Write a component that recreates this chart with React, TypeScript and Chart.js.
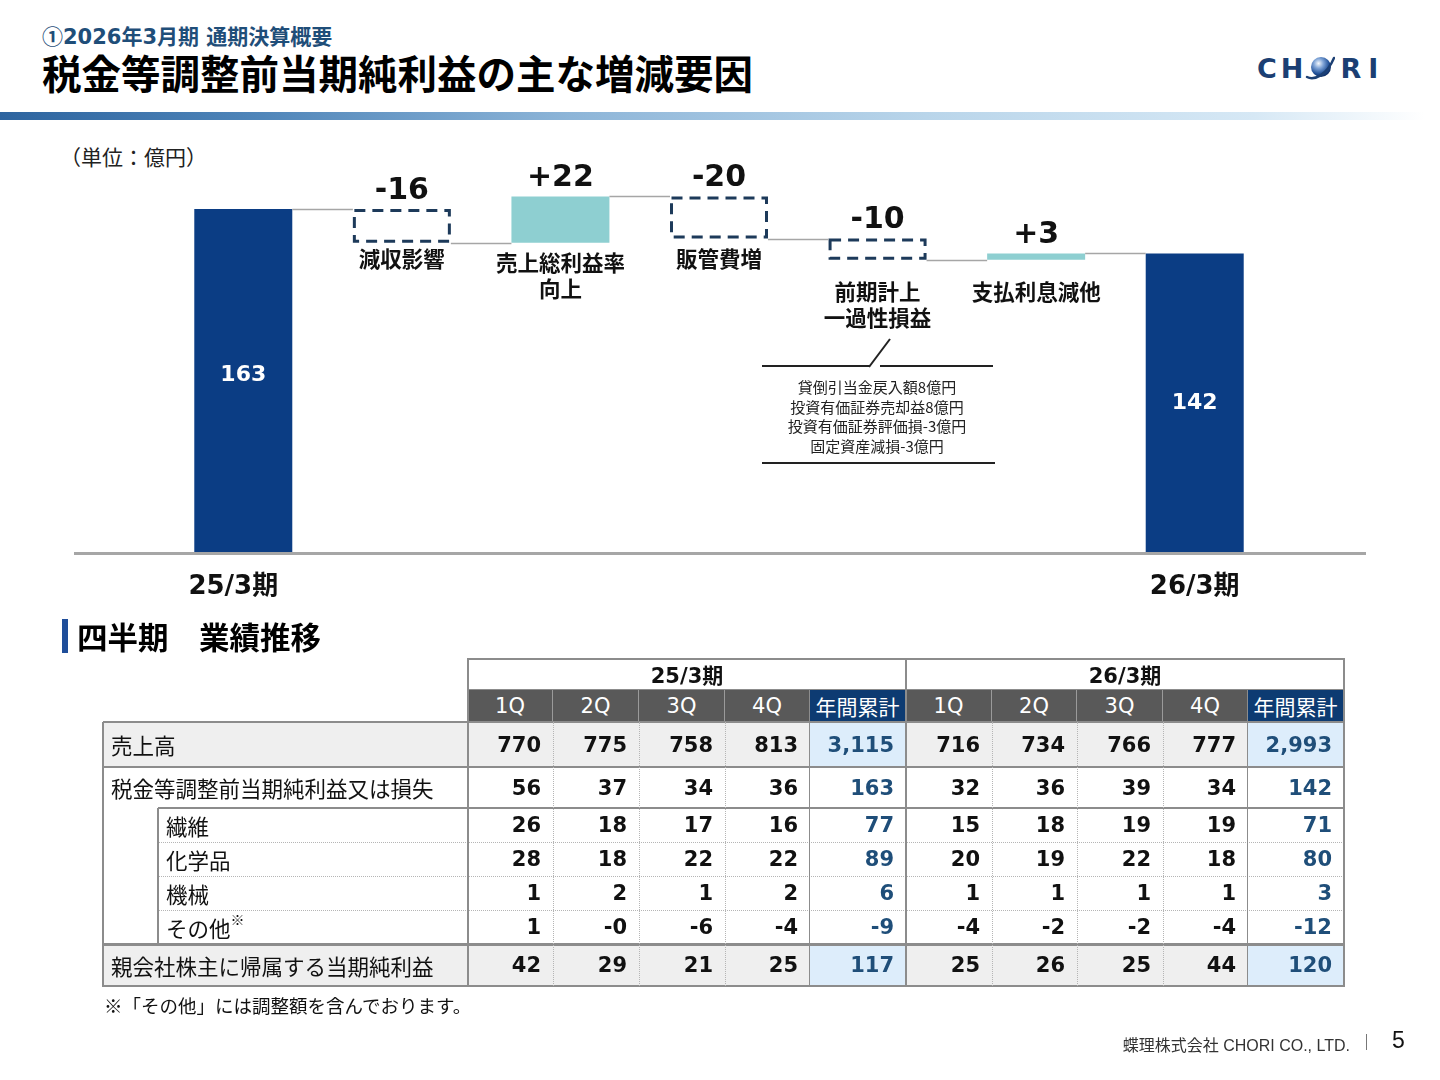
import React, { useEffect, useRef } from 'react';
import { Chart, registerables } from 'chart.js';

Chart.register(...registerables);

// ---------------- Waterfall data ----------------
const wfCategories = ['25/3期', '減収影響', '売上総利益率向上', '販管費増', '前期計上一過性損益', '支払利息減他', '26/3期'];
const wfStartValue = 163;
const wfChangeValues = [-16, 22, -20, -10, 3];
const wfEndValue = 142;
const wfChangeLabelLines = [['減収影響'], ['売上総利益率', '向上'], ['販管費増'], ['前期計上', '一過性損益'], ['支払利息減他']];
const wfNoteLines = ['貸倒引当金戻入額8億円', '投資有価証券売却益8億円', '投資有価証券評価損-3億円', '固定資産減損-3億円'];

// ---------------- Table data ----------------
const periods = ['25/3期', '26/3期'];
const quarterHeaders = ['1Q', '2Q', '3Q', '4Q', '年間累計'];
const rowLabels = ['売上高', '税金等調整前当期純利益又は損失', '繊維', '化学品', '機械', 'その他', '親会社株主に帰属する当期純利益'];
const fy25Values = [
  ['770', '775', '758', '813', '3,115'],
  ['56', '37', '34', '36', '163'],
  ['26', '18', '17', '16', '77'],
  ['28', '18', '22', '22', '89'],
  ['1', '2', '1', '2', '6'],
  ['1', '-0', '-6', '-4', '-9'],
  ['42', '29', '21', '25', '117'],
];
const fy26Values = [
  ['716', '734', '766', '777', '2,993'],
  ['32', '36', '39', '34', '142'],
  ['15', '18', '19', '19', '71'],
  ['20', '19', '22', '18', '80'],
  ['1', '1', '1', '1', '3'],
  ['-4', '-2', '-2', '-4', '-12'],
  ['25', '26', '25', '44', '120'],
];

// ---------------- Styles ----------------
const JP = '"Noto Sans CJK JP", sans-serif';
const NUM = '"DejaVu Sans", "Noto Sans CJK JP", sans-serif';
const NAVY = '#0b3d84';
const TEAL = '#8ecfd1';
const DASH = '#1d3a5a';
const CONNECT = '#a6a6a6';
const LABEL_GAP = [16, 20, 20, 32, 32];
const TOTAL_LABEL_DX = [-10, 0];

// layout of table (pixels)
const colX = [468, 553, 639, 725, 810, 906, 992, 1077, 1163, 1248, 1344];
const rowY = [722, 767, 808, 842, 876, 910, 944, 986];
const TABLE_LEFT = 103;
const SUB_LEFT = 158;

function buildBars() {
  const bars: [number, number][] = [[0, wfStartValue]];
  const levels: number[] = [wfStartValue];
  let run = wfStartValue;
  for (const c of wfChangeValues) {
    const next = run + c;
    bars.push([Math.min(run, next), Math.max(run, next)]);
    run = next;
    levels.push(run);
  }
  bars.push([0, wfEndValue]);
  return { bars, levels };
}

const waterfallPlugin = {
  id: 'waterfallDecor',
  afterDatasetsDraw(chart: any) {
    const ctx = chart.ctx;
    const ys = chart.scales.y;
    const meta = chart.getDatasetMeta(0);
    const els = meta.data.map((el: any) => el.getProps(['x', 'y', 'base', 'width'], true));
    const { levels } = buildBars();
    const n = els.length;
    ctx.save();
    // dashed boxes for negatives
    wfChangeValues.forEach((v, i) => {
      const e = els[i + 1];
      if (v < 0) {
        ctx.setLineDash([11, 7]);
        ctx.lineWidth = 3;
        ctx.strokeStyle = DASH;
        const top = Math.min(e.y, e.base);
        const bot = Math.max(e.y, e.base);
        ctx.strokeRect(e.x - e.width / 2 + 1.5, top + 1.5, e.width - 3, bot - top - 3);
      }
    });
    ctx.setLineDash([]);
    // connectors
    ctx.strokeStyle = CONNECT;
    ctx.lineWidth = 1.5;
    for (let i = 0; i < n - 1; i++) {
      const a = els[i];
      const b = els[i + 1];
      const py = Math.round(ys.getPixelForValue(levels[i])) + 0.5;
      ctx.beginPath();
      ctx.moveTo(a.x + a.width / 2, py);
      ctx.lineTo(b.x - b.width / 2, py);
      ctx.stroke();
    }
    // baseline axis
    const y0 = ys.getPixelForValue(0);
    ctx.strokeStyle = '#a6a6a6';
    ctx.lineWidth = 3;
    ctx.beginPath();
    ctx.moveTo(0, y0 + 0.5);
    ctx.lineTo(chart.width, y0 + 0.5);
    ctx.stroke();

    // value labels for changes
    ctx.textAlign = 'center';
    ctx.textBaseline = 'middle';
    wfChangeValues.forEach((v, i) => {
      const e = els[i + 1];
      const top = Math.min(e.y, e.base);
      const bot = Math.max(e.y, e.base);
      ctx.fillStyle = '#111';
      ctx.font = `bold 30px ${NUM}`;
      ctx.fillText((v > 0 ? '+' : '') + String(v), e.x, top - 18);
      ctx.font = `bold 21.5px ${JP}`;
      wfChangeLabelLines[i].forEach((line, k) => {
        ctx.fillText(line, e.x, bot + LABEL_GAP[i] + k * 26);
      });
    });
    // totals
    [0, n - 1].forEach((idx, k) => {
      const e = els[idx];
      const top = Math.min(e.y, e.base);
      const bot = Math.max(e.y, e.base);
      const val = idx === 0 ? wfStartValue : wfEndValue;
      ctx.fillStyle = '#ffffff';
      ctx.font = `bold 22px ${NUM}`;
      ctx.fillText(String(val), e.x, (top + bot) / 2 - (idx === 0 ? 6 : 0));
      ctx.fillStyle = '#111';
      ctx.font = `bold 26px ${NUM}`;
      ctx.fillText(wfCategories[idx], e.x + TOTAL_LABEL_DX[k], bot + 34);
    });
    ctx.restore();
  },
};

function Waterfall() {
  const ref = useRef<HTMLCanvasElement | null>(null);
  useEffect(() => {
    if (!ref.current) return;
    const { bars } = buildBars();
    const bg = bars.map((_, i) => {
      if (i === 0 || i === bars.length - 1) return NAVY;
      return wfChangeValues[i - 1] > 0 ? TEAL : 'rgba(0,0,0,0)';
    });
    const chart = new Chart(ref.current, {
      type: 'bar',
      data: {
        labels: wfCategories,
        datasets: [
          {
            data: bars as any,
            backgroundColor: bg,
            borderWidth: 0,
            barPercentage: 0.618,
            categoryPercentage: 1,
          },
        ],
      },
      options: {
        responsive: false,
        maintainAspectRatio: false,
        animation: false,
        devicePixelRatio: 1,
        layout: { padding: { left: 90, right: 92, top: 31, bottom: 67 } },
        plugins: { legend: { display: false }, tooltip: { enabled: false } },
        scales: {
          x: { display: false },
          y: { display: false, min: 0, max: 200 },
        },
      },
      plugins: [waterfallPlugin],
    });
    let alive = true;
    (document as any).fonts?.ready?.then(() => {
      if (alive) chart.update();
    });
    return () => {
      alive = false;
      chart.destroy();
    };
  }, []);
  return (
    <canvas
      ref={ref}
      width={1292}
      height={520}
      style={{ position: 'absolute', left: 74, top: 100, width: 1292, height: 520 }}
    />
  );
}

function HLine({ x1, x2, y, w = 2, color = '#8c8c8c', dotted = false }: any) {
  return (
    <div
      style={{
        position: 'absolute',
        left: x1,
        top: y - w / 2,
        width: x2 - x1,
        height: 0,
        borderTop: `${w}px ${dotted ? 'dotted' : 'solid'} ${color}`,
      }}
    />
  );
}
function VLine({ x, y1, y2, w = 2, color = '#8c8c8c', dotted = false }: any) {
  return (
    <div
      style={{
        position: 'absolute',
        left: x - w / 2,
        top: y1,
        width: 0,
        height: y2 - y1,
        borderLeft: `${w}px ${dotted ? 'dotted' : 'solid'} ${color}`,
      }}
    />
  );
}

function Table() {
  const els: any[] = [];
  const highlightRows = [0, 6];
  // backgrounds
  rowLabels.forEach((_, r) => {
    const top = rowY[r];
    const h = rowY[r + 1] - rowY[r];
    if (highlightRows.includes(r)) {
      els.push(
        <div key={`bg${r}`} style={{ position: 'absolute', left: TABLE_LEFT, top, width: colX[10] - TABLE_LEFT, height: h, background: '#efefef' }} />
      );
      [4, 9].forEach((c) => {
        els.push(
          <div key={`bgt${r}-${c}`} style={{ position: 'absolute', left: colX[c], top, width: colX[c + 1] - colX[c], height: h, background: '#ddedfb' }} />
        );
      });
    }
  });
  // period header
  periods.forEach((p, i) => {
    els.push(
      <div
        key={`p${i}`}
        style={{
          position: 'absolute',
          left: colX[i * 5],
          top: 658,
          width: colX[i * 5 + 5] - colX[i * 5],
          height: 31,
          display: 'flex',
          alignItems: 'center',
          justifyContent: 'center',
          font: `bold 21px ${NUM}`,
          color: '#111',
        }}
      >
        {p}
      </div>
    );
  });
  // quarter headers
  for (let c = 0; c < 10; c++) {
    const isTotal = c % 5 === 4;
    els.push(
      <div
        key={`q${c}`}
        style={{
          position: 'absolute',
          left: colX[c],
          top: 689,
          width: colX[c + 1] - colX[c],
          height: 33,
          background: isTotal ? '#0d3b72' : '#595959',
          color: '#fff',
          display: 'flex',
          alignItems: 'center',
          justifyContent: 'center',
          font: isTotal ? `21px ${JP}` : `21px ${NUM}`,
          boxSizing: 'border-box',
          borderRight: '1px solid #9a9a9a',
        }}
      >
        {quarterHeaders[c % 5]}
      </div>
    );
  }
  // row labels and values
  rowLabels.forEach((label, r) => {
    const top = rowY[r];
    const h = rowY[r + 1] - rowY[r];
    const isSub = r >= 2 && r <= 5;
    const left = isSub ? SUB_LEFT : TABLE_LEFT;
    els.push(
      <div
        key={`l${r}`}
        style={{
          position: 'absolute',
          left: left + 8,
          top,
          height: h,
          display: 'flex',
          alignItems: 'center',
          font: `21.5px ${JP}`,
          color: '#111',
          whiteSpace: 'nowrap',
        }}
      >
        {label}
        {label === 'その他' ? <span style={{ fontSize: 14, position: 'relative', top: -8 }}>※</span> : null}
      </div>
    );
    const vals = [...fy25Values[r], ...fy26Values[r]];
    vals.forEach((v, c) => {
      const isTotal = c % 5 === 4;
      els.push(
        <div
          key={`v${r}-${c}`}
          style={{
            position: 'absolute',
            left: colX[c],
            top,
            width: colX[c + 1] - colX[c] - 12,
            height: h,
            display: 'flex',
            alignItems: 'center',
            justifyContent: 'flex-end',
            font: `bold 21px ${NUM}`,
            color: isTotal ? '#1f4e79' : '#111',
          }}
        >
          {v}
        </div>
      );
    });
  });

  // lines
  const lines: any[] = [];
  lines.push(<HLine key="h658" x1={468} x2={1344} y={659} />);
  lines.push(<HLine key="h689" x1={468} x2={1344} y={689} w={1} />);
  lines.push(<HLine key="h722" x1={TABLE_LEFT} x2={1344} y={rowY[0]} />);
  lines.push(<HLine key="h767" x1={TABLE_LEFT} x2={1344} y={rowY[1]} />);
  lines.push(<HLine key="h808" x1={SUB_LEFT} x2={1344} y={rowY[2]} />);
  [3, 4, 5].forEach((r) => lines.push(<HLine key={`hd${r}`} x1={SUB_LEFT} x2={1344} y={rowY[r]} w={1} color="#b5b5b5" dotted />));
  lines.push(<HLine key="h944" x1={TABLE_LEFT} x2={1344} y={rowY[6]} w={3} />);
  lines.push(<HLine key="h986" x1={TABLE_LEFT} x2={1344} y={rowY[7]} />);
  lines.push(<VLine key="v103" x={TABLE_LEFT} y1={rowY[0]} y2={rowY[7] + 1} />);
  lines.push(<VLine key="v158" x={SUB_LEFT} y1={rowY[2]} y2={rowY[6]} />);
  [0, 5, 10].forEach((c) => lines.push(<VLine key={`vs${c}`} x={colX[c]} y1={658} y2={rowY[7] + 1} />));
  [4, 9].forEach((c) => lines.push(<VLine key={`vt${c}`} x={colX[c]} y1={689} y2={rowY[7]} w={1.5} />));
  [1, 2, 3, 6, 7, 8].forEach((c) => lines.push(<VLine key={`vd${c}`} x={colX[c]} y1={rowY[0]} y2={rowY[7]} w={1} color="#b5b5b5" dotted />));

  return (
    <>
      {els}
      {lines}
    </>
  );
}

function Logo() {
  const letter: React.CSSProperties = { font: `bold 27px ${NUM}`, color: '#1b3f73', letterSpacing: 4 };
  return (
    <div style={{ position: 'absolute', left: 1257, top: 50, display: 'flex', alignItems: 'center', height: 36 }}>
      <span style={letter}>CH</span>
      <svg width="30" height="28" viewBox="0 0 30 28" style={{ marginLeft: -2, marginRight: 5 }}>
        <defs>
          <radialGradient id="sph" cx="0.38" cy="0.32" r="0.7">
            <stop offset="0" stopColor="#f4f8fd" />
            <stop offset="0.35" stopColor="#7ea3d6" />
            <stop offset="0.75" stopColor="#1f4f97" />
            <stop offset="1" stopColor="#0f2c5e" />
          </radialGradient>
        </defs>
        <circle cx="16" cy="13" r="10" fill="url(#sph)" />
        <path d="M2 23 C 9 27, 22 21, 29 4" stroke="#1b3f73" strokeWidth="2.5" fill="none" strokeLinecap="round" />
      </svg>
      <span style={{ ...letter, letterSpacing: 7 }}>RI</span>
    </div>
  );
}

export default function App() {
  return (
    <div
      style={{
        position: 'fixed',
        left: 0,
        top: 0,
        width: 1440,
        height: 1080,
        background: '#ffffff',
        overflow: 'hidden',
        fontFamily: JP,
      }}
    >
      {/* Header */}
      <div style={{ position: 'absolute', left: 42, top: 20, font: `bold 21px ${NUM}`, color: '#1f4e79', whiteSpace: 'nowrap' }}>
        <span style={{ fontFamily: JP }}>①</span>2026年3月期 通期決算概要
      </div>
      <div style={{ position: 'absolute', left: 42, top: 50, font: `bold 39.5px ${NUM}`, color: '#000', whiteSpace: 'nowrap', lineHeight: '50px' }}>
        税金等調整前当期純利益の主な増減要因
      </div>
      <Logo />
      <div
        style={{
          position: 'absolute',
          left: 0,
          top: 112,
          width: 1425,
          height: 8,
          background:
            'linear-gradient(to right, #2d649f 0%, #4f85b9 18%, #8db5d8 40%, #b9d5ea 65%, #d6e8f5 88%, rgba(255,255,255,0) 100%)',
        }}
      />

      {/* Waterfall */}
      <div style={{ position: 'absolute', left: 60, top: 141, font: `21px ${JP}`, color: '#222', whiteSpace: 'nowrap' }}>（単位：億円）</div>
      <Waterfall />
      <svg width="1440" height="1080" style={{ position: 'absolute', left: 0, top: 0, pointerEvents: 'none' }}>
        <line x1="762" y1="366" x2="870" y2="366" stroke="#222" strokeWidth="2" />
        <line x1="869" y1="367" x2="890" y2="339" stroke="#222" strokeWidth="2" />
        <line x1="880" y1="366" x2="993" y2="366" stroke="#222" strokeWidth="2" />
        <line x1="762" y1="463" x2="995" y2="463" stroke="#222" strokeWidth="2" />
      </svg>
      <div
        style={{
          position: 'absolute',
          left: 762,
          top: 377,
          width: 230,
          textAlign: 'center',
          font: `15px ${JP}`,
          lineHeight: '19.5px',
          color: '#222',
        }}
      >
        {wfNoteLines.map((l, i) => (
          <div key={i}>{l}</div>
        ))}
      </div>

      {/* Section heading */}
      <div style={{ position: 'absolute', left: 62, top: 619, width: 6, height: 34, background: '#1f4e9a' }} />
      <div style={{ position: 'absolute', left: 77, top: 615, font: `bold 30.5px ${JP}`, color: '#000', whiteSpace: 'nowrap', lineHeight: '42px' }}>
        四半期　業績推移
      </div>

      <Table />

      <div style={{ position: 'absolute', left: 104, top: 992, font: `18.5px ${JP}`, color: '#111', whiteSpace: 'nowrap' }}>
        ※「その他」には調整額を含んでおります。
      </div>

      {/* Footer */}
      <div style={{ position: 'absolute', right: 90, top: 1032, font: `16px "Liberation Sans", ${JP}`, color: '#333', whiteSpace: 'nowrap' }}>
        蝶理株式会社 CHORI CO., LTD.
      </div>
      <div style={{ position: 'absolute', left: 1366, top: 1034, width: 1, height: 16, background: '#777' }} />
      <div style={{ position: 'absolute', left: 1392, top: 1027, font: `23px "Liberation Sans", ${JP}`, color: '#111' }}>5</div>
    </div>
  );
}
